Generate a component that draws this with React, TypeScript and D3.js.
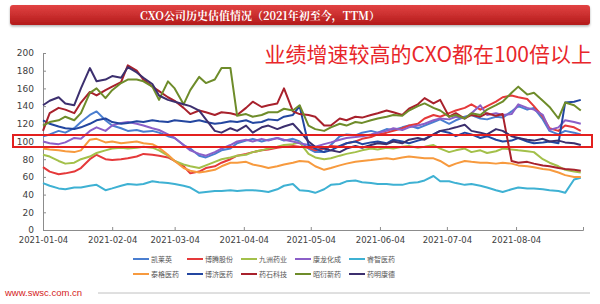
import * as d3 from "d3";
import { useEffect, useRef } from "react";

// 每周一、四取值（2021-01-04 ~ 2021-09-02）
const dates = [
  "01-04", "01-07", "01-11", "01-14", "01-18", "01-21", "01-25", "01-28",
  "02-01", "02-04", "02-08", "02-11", "02-15", "02-18", "02-22", "02-25",
  "03-01", "03-04", "03-08", "03-11", "03-15", "03-18", "03-22", "03-25", "03-29",
  "04-01", "04-05", "04-08", "04-12", "04-15", "04-19", "04-22", "04-26", "04-29",
  "05-03", "05-06", "05-10", "05-13", "05-17", "05-20", "05-24", "05-27", "05-31",
  "06-03", "06-07", "06-10", "06-14", "06-17", "06-21", "06-24", "06-28",
  "07-01", "07-05", "07-08", "07-12", "07-15", "07-19", "07-22", "07-26", "07-29",
  "08-02", "08-05", "08-09", "08-12", "08-16", "08-19", "08-23", "08-26", "08-30",
  "09-02",
].map(d => "2021-" + d);

const names = ["凯莱英", "博腾股份", "九洲药业", "康龙化成", "睿智医药", "泰格医药", "博济医药", "药石科技", "昭衍新药", "药明康德"];
const colors = ["#4a7ed0", "#e5393a", "#a3c04a", "#8b5fc8", "#3eb1d3", "#f79a3e", "#2346a0", "#a8212c", "#6e8c2a", "#3c2f6e"];

const kaiLaiYing = [106, 108, 112, 110, 115, 122, 130, 134, 124, 118, 115, 112, 113, 111, 112, 110, 106, 104, 96, 92, 84, 82, 86, 90, 92, 98, 101, 103, 100, 102, 104, 101, 103, 100, 92, 88, 88, 96, 106, 108, 107, 110, 112, 110, 114, 113, 116, 118, 115, 118, 122, 125, 120, 124, 128, 130, 126, 125, 128, 127, 134, 140, 136, 138, 125, 112, 108, 112, 110, 108];
const boTeng = [71, 66, 63, 64, 66, 70, 80, 85, 80, 79, 80, 81, 83, 86, 85, 84, 82, 78, 72, 64, 66, 70, 72, 76, 80, 84, 86, 88, 90, 91, 93, 94, 95, 94, 93, 90, 92, 95, 94, 98, 100, 103, 105, 108, 110, 112, 115, 118, 120, 126, 130, 128, 132, 135, 138, 142, 136, 140, 145, 150, 152, 150, 148, 140, 128, 115, 112, 118, 116, 112];
const jiuZhou = [85, 83, 78, 75, 76, 80, 83, 87, 90, 92, 93, 92, 93, 94, 93, 90, 84, 78, 74, 72, 70, 73, 77, 80, 82, 84, 85, 88, 90, 92, 94, 96, 97, 99, 86, 82, 80, 81, 84, 86, 88, 90, 92, 91, 93, 92, 94, 95, 93, 94, 96, 92, 88, 90, 92, 88, 90, 87, 89, 92, 91, 90, 89, 88, 80, 76, 72, 68, 66, 65];
const kangLong = [100, 98, 97, 99, 104, 103, 112, 116, 112, 118, 121, 122, 120, 118, 115, 113, 108, 104, 96, 90, 86, 84, 88, 92, 96, 100, 102, 100, 103, 101, 104, 102, 100, 98, 96, 94, 97, 99, 102, 104, 105, 106, 108, 110, 112, 115, 113, 116, 118, 120, 124, 126, 125, 128, 126, 132, 141, 130, 132, 130, 131, 142, 138, 136, 130, 113, 116, 124, 122, 120];
const ruiZhi = [53, 50, 47, 46, 48, 48, 50, 51, 45, 47, 50, 52, 51, 52, 55, 54, 53, 52, 50, 48, 42, 43, 44, 44, 45, 44, 45, 45, 44, 43, 46, 50, 52, 45, 44, 42, 46, 51, 52, 55, 56, 54, 53, 52, 52, 51, 51, 53, 54, 56, 61, 55, 55, 53, 51, 52, 50, 48, 45, 43, 46, 48, 47, 47, 46, 45, 44, 42, 57, 59];
const taiGe = [92, 91, 90, 89, 88, 90, 102, 103, 99, 100, 98, 99, 100, 98, 97, 93, 85, 78, 70, 67, 65, 66, 68, 72, 76, 76, 77, 74, 72, 70, 72, 74, 76, 78, 77, 72, 68, 70, 73, 75, 77, 78, 79, 80, 81, 80, 82, 83, 82, 81, 81, 78, 72, 75, 78, 77, 76, 76, 75, 76, 75, 73, 72, 71, 69, 68, 65, 62, 60, 60];
const boJi = [124, 120, 117, 115, 114, 116, 120, 124, 126, 122, 120, 121, 123, 122, 124, 123, 122, 124, 123, 122, 124, 122, 120, 121, 123, 122, 124, 121, 122, 125, 124, 128, 130, 140, 96, 92, 88, 90, 95, 98, 100, 97, 99, 100, 98, 102, 100, 98, 101, 103, 108, 112, 110, 106, 110, 108, 104, 106, 102, 100, 101, 104, 100, 98, 99, 100, 98, 144, 145, 147];
const yaoShi = [112, 132, 138, 136, 132, 144, 156, 152, 158, 162, 167, 186, 180, 170, 162, 157, 150, 146, 138, 131, 135, 133, 130, 133, 132, 130, 138, 145, 139, 141, 143, 160, 134, 131, 130, 128, 118, 118, 126, 124, 128, 127, 130, 132, 135, 133, 130, 137, 142, 149, 143, 147, 128, 132, 126, 130, 128, 132, 129, 131, 78, 76, 77, 75, 73, 72, 70, 69, 68, 67];
const zhaoYan = [118, 122, 124, 128, 124, 132, 155, 160, 149, 158, 166, 170, 170, 168, 162, 147, 168, 160, 142, 158, 173, 166, 170, 183, 183, 129, 131, 128, 130, 133, 133, 137, 135, 141, 118, 114, 112, 116, 120, 118, 122, 121, 124, 126, 128, 130, 129, 135, 140, 143, 138, 135, 128, 130, 126, 132, 130, 136, 141, 145, 155, 162, 153, 155, 146, 139, 126, 144, 141, 135];
const yaoMing = [141, 146, 150, 143, 141, 160, 183, 168, 170, 174, 172, 184, 178, 172, 165, 152, 147, 145, 142, 140, 135, 125, 112, 110, 115, 112, 118, 110, 116, 118, 114, 117, 120, 112, 100, 94, 92, 90, 88, 92, 95, 93, 96, 98, 97, 100, 98, 102, 104, 102, 108, 112, 114, 116, 119, 112, 110, 108, 114, 112, 106, 104, 102, 101, 103, 100, 101, 99, 98, 96];

const series = [kaiLaiYing, boTeng, jiuZhou, kangLong, ruiZhi, taiGe, boJi, yaoShi, zhaoYan, yaoMing];

const xTicks = ["2021-01-04", "2021-02-04", "2021-03-04", "2021-04-04", "2021-05-04", "2021-06-04", "2021-07-04", "2021-08-04", "2021-09-03"];
const yTicks = [0, 20, 40, 60, 80, 100, 120, 140, 160, 180, 200];

const W = 600;
const H = 304;
const cjk = "'Noto Sans CJK SC', 'Noto Sans', sans-serif";

const App = () => {
  const chartRef = useRef(null);

  useEffect(() => {
    const svg = d3.select(chartRef.current);
    svg.selectAll("*").remove();

    const parse = d3.timeParse("%Y-%m-%d");
    const margin = { left: 43, right: 17, top: 53, bottom: 74 };

    const scaleX = d3.scaleTime()
      .domain([parse(xTicks[0]), parse(xTicks[xTicks.length - 1])])
      .range([margin.left, W - margin.right]);
    const scaleY = d3.scaleLinear()
      .domain([0, 200])
      .range([H - margin.bottom, margin.top]);

    // 标题条
    const defs = svg.append("defs");
    const grad = defs.append("linearGradient").attr("id", "titleGrad").attr("x1", 0).attr("x2", 0).attr("y1", 0).attr("y2", 1);
    grad.append("stop").attr("offset", "0%").attr("stop-color", "#e24343");
    grad.append("stop").attr("offset", "100%").attr("stop-color", "#b31a1a");
    const shadow = defs.append("filter").attr("id", "sh").attr("x", "-5%").attr("y", "-30%").attr("width", "110%").attr("height", "170%");
    shadow.append("feDropShadow").attr("dx", 0).attr("dy", 1.5).attr("stdDeviation", 1.2).attr("flood-color", "#000").attr("flood-opacity", 0.3);

    svg.append("rect")
      .attr("x", 10).attr("y", 5).attr("width", 580).attr("height", 20).attr("rx", 3)
      .attr("fill", "url(#titleGrad)").attr("filter", "url(#sh)");
    svg.append("text")
      .attr("x", 260).attr("y", 19.5)
      .attr("text-anchor", "middle")
      .style("font-family", "'Noto Serif CJK SC', 'Noto Sans CJK SC', serif")
      .style("font-weight", "bold").style("font-size", "11px")
      .attr("fill", "#fff")
      .text("CXO公司历史估值情况（2021年初至今，TTM）");

    // 坐标轴
    const yAxis = d3.axisLeft(scaleY).tickValues(yTicks).tickSize(-3).tickPadding(9);
    const gy = svg.append("g").attr("transform", `translate(${margin.left},0)`).call(yAxis);

    const fmt = d3.timeFormat("%Y-%m-%d");
    const xAxis = d3.axisBottom(scaleX)
      .tickValues(xTicks.map(parse))
      .tickSize(-3).tickPadding(7)
      .tickFormat((d, i) => (i === xTicks.length - 1 ? "" : fmt(d)));
    const gx = svg.append("g").attr("transform", `translate(0,${H - margin.bottom})`).call(xAxis);

    [gx, gy].forEach(g => {
      g.select(".domain").attr("stroke", "#8c8c8c");
      g.selectAll(".tick line").attr("stroke", "#8c8c8c");
      g.selectAll("text").attr("fill", "#404040").style("font-size", "9px").style("font-family", "'DejaVu Sans', sans-serif");
    });
    gx.selectAll("text").style("font-size", "8.5px");

    // 折线
    const line = d3.line()
      .x((d, i) => scaleX(parse(dates[i])))
      .y(d => scaleY(d));

    series.forEach((s, k) => {
      svg.append("path")
        .datum(s)
        .attr("d", line)
        .attr("fill", "none")
        .attr("stroke", colors[k])
        .attr("stroke-width", 2)
        .attr("stroke-linejoin", "round");
    });

    // 红框与标注
    svg.append("rect")
      .attr("x", 13).attr("y", 135).attr("width", 579).attr("height", 12)
      .attr("fill", "none").attr("stroke", "#e3201f").attr("stroke-width", 2);
    svg.append("text")
      .attr("x", 592).attr("y", 62)
      .attr("text-anchor", "end")
      .style("font-family", cjk).style("font-size", "21px")
      .attr("fill", "#e8262a")
      .text("业绩增速较高的CXO都在100倍以上");

    // 图例
    const legend = svg.append("g").style("font-family", cjk).style("font-size", "7px");
    names.forEach((n, k) => {
      const row = Math.floor(k / 5);
      const col = k % 5;
      const x0 = 133 + col * 54;
      const y0 = 259 + row * 15;
      legend.append("line")
        .attr("x1", x0).attr("x2", x0 + 16).attr("y1", y0).attr("y2", y0)
        .attr("stroke", colors[k]).attr("stroke-width", 2);
      legend.append("text")
        .attr("x", x0 + 18).attr("y", y0 + 2.5)
        .attr("fill", "#555")
        .text(n);
    });

    // 页脚
    svg.append("text")
      .attr("x", 5).attr("y", 296)
      .style("font-family", "'Liberation Sans', Arial, sans-serif").style("font-size", "9.5px")
      .attr("fill", "#d42222")
      .text("www.swsc.com.cn");
    svg.append("line")
      .attr("x1", 98).attr("x2", 590).attr("y1", 293).attr("y2", 293)
      .attr("stroke", "#b0b0b0").attr("stroke-width", 0.8);
  }, []);

  return (
    <svg ref={chartRef} width={W} height={H}
      style={{ position: "absolute", left: 0, top: 0, background: "#fff" }} />
  );
};

export default App;
